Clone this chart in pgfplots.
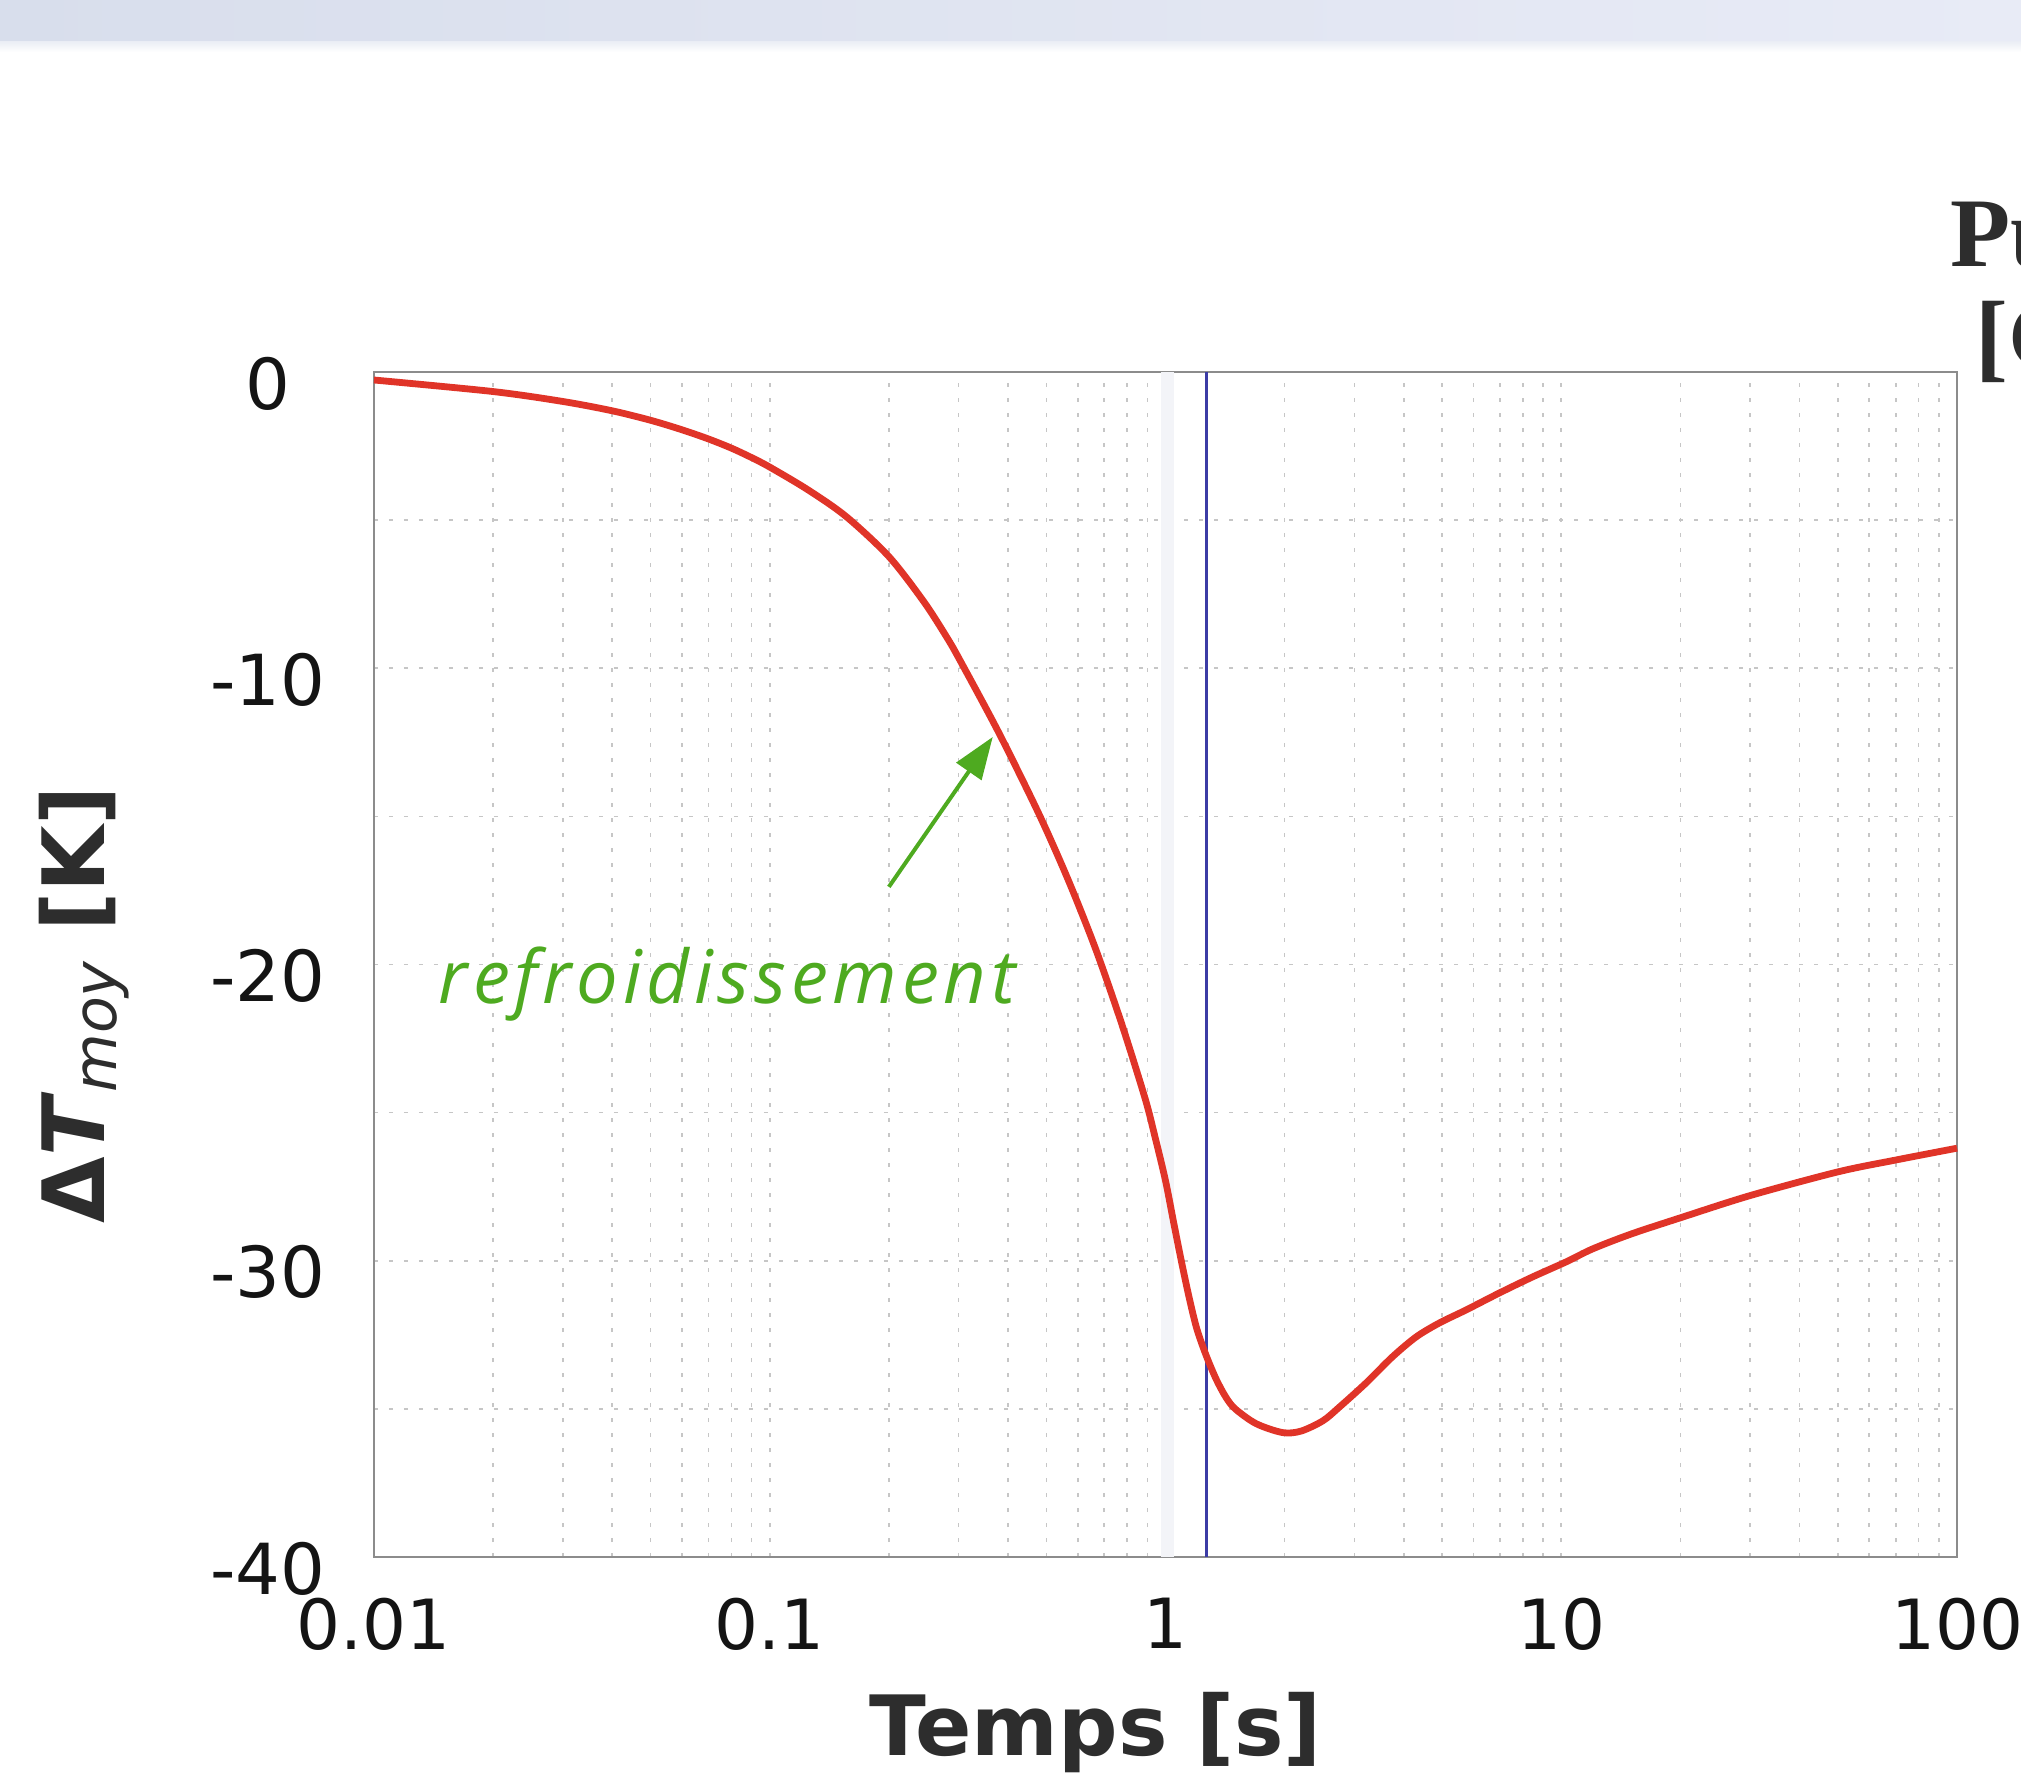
\documentclass[border=0pt]{standalone}
\usepackage{fontspec}
\usepackage{pgfplots}
\pgfplotsset{compat=1.18}
\usetikzlibrary{arrows.meta}
\setmainfont{DejaVu Sans}
\newfontfamily\notefont{Open Sans}[LetterSpace=6.5]
\newfontfamily\headfont{Liberation Serif}

\definecolor{curvered}{RGB}{224,52,40}
\definecolor{markblue}{RGB}{60,60,165}
\definecolor{notegreen}{RGB}{78,170,32}
\definecolor{gridgray}{RGB}{198,198,198}
\definecolor{framegray}{RGB}{140,140,140}
\definecolor{labelgray}{RGB}{45,45,45}
\definecolor{bandleft}{RGB}{216,222,236}
\definecolor{bandright}{RGB}{232,235,246}
\definecolor{softband}{RGB}{243,244,248}

% mean temperature change of the sample versus time
\pgfplotstableread{
t      dT
0.01   -0.27
0.02   -0.66
0.03   -0.995
0.04   -1.31
0.05   -1.63
0.06   -1.95
0.07   -2.26
0.08   -2.57
0.09   -2.89
0.1    -3.21
0.125  -3.98
0.156  -4.88
0.2    -6.23
0.245  -7.75
0.28   -8.95
0.303  -9.75
0.38   -12.2
0.48   -14.95
0.57   -17.2
0.667  -19.5
0.775  -22.0
0.887  -24.5
0.94   -25.8
1.0    -27.3
1.05   -28.75
1.1    -30.1
1.15   -31.3
1.2    -32.3
1.267  -33.2
1.343  -34.0
1.42   -34.6
1.5    -35.0
1.695  -35.5
1.976  -35.8
2.2    -35.75
2.5    -35.4
2.75   -34.94
3.21   -34.13
3.74   -33.25
4.30   -32.57
4.92   -32.1
5.75   -31.66
6.97   -31.09
8.45   -30.55
10.28  -30.04
12     -29.6
15     -29.1
20     -28.55
30     -27.8
50     -27.0
70     -26.6
100    -26.2
}\coolingdata

\begin{document}
\begin{tikzpicture}
\useasboundingbox (0,0) rectangle (505.25pt,444pt);
\clip (0,0) rectangle (505.25pt,444pt);
\fill[white] (0,0) rectangle (505.25pt,444pt);
% header band
\shade[left color=bandleft,right color=bandright] (0,433.5pt) rectangle (505.25pt,444pt);
\shade[top color=bandleft!50!white,bottom color=white] (0,431pt) rectangle (505.25pt,433.5pt);

% heading of the neighbouring panel
\node[anchor=base west,inner sep=0,text=labelgray,
      font=\headfont\bfseries\fontsize{24.6}{28}\selectfont] at (487.5pt,377.25pt) {Puissance};
\node[anchor=base west,inner sep=0,text=labelgray,
      font=\headfont\bfseries\fontsize{24.6}{28}\selectfont] at (493.6pt,351.5pt) {[GW]};

\begin{axis}[
  at={(93.5pt,54.75pt)}, anchor=south west,
  width=395.75pt, height=296.25pt, scale only axis,
  xmode=log, xmin=0.01, xmax=100, ymin=-40, ymax=0,
  xtick={0.01,0.1,1,10,100}, xticklabels={0.01,0.1,1,10,100},
  ytick={-40,-30,-20,-10,0}, yticklabels={-40,-30,-20,-10,0},
  minor ytick={-35,-25,-15,-5},
  grid=both,
  major grid style={gridgray,line width=0.4pt,dash pattern=on 1pt off 2.75pt},
  minor grid style={gridgray,line width=0.4pt,dash pattern=on 1pt off 2.75pt},
  major tick length=0pt, minor tick length=0pt,
  axis line style={framegray,line width=0.55pt},
  xticklabel style={font=\fontsize{17.3}{20}\selectfont,text=black!92,yshift=-6.8pt},
  yticklabel style={font=\fontsize{17.6}{20}\selectfont,text=black!92,anchor=center,xshift=-26.5pt,yshift=-2.9pt},
  clip=false,
]
\fill[softband] (axis cs:0.975,-40) rectangle (axis cs:1.05,0);
\addplot[markblue,line width=0.8pt] coordinates {(1.267,-40) (1.267,0)};
\addplot[curvered,line width=1.7pt,smooth] table[x=t,y=dT] {\coolingdata};

\node[anchor=base west,inner sep=0,text=notegreen,
      font=\notefont\itshape\fontsize{18.5}{22}\selectfont] at (axis cs:0.01453,-21.3) {refroidissement};
\draw[notegreen,line width=1pt,-{Triangle[length=10.5pt,width=7.5pt]}]
  (axis cs:0.2,-17.38) -- (axis cs:0.366,-12.32);

\node[anchor=base,text=labelgray,font=\bfseries\fontsize{20.8}{24}\selectfont]
  at (axis description cs:0.456,-0.1679) {Temps [s]};
\node[rotate=90,anchor=center,text=labelgray,font=\fontsize{21.5}{24}\selectfont]
  at (axis description cs:-0.1832,0.466)
  {\textbf{Δ}\textbf{\textit{T}}\textsubscript{\textit{moy}} \textbf{[K]}};
\end{axis}
\end{tikzpicture}
\end{document}
